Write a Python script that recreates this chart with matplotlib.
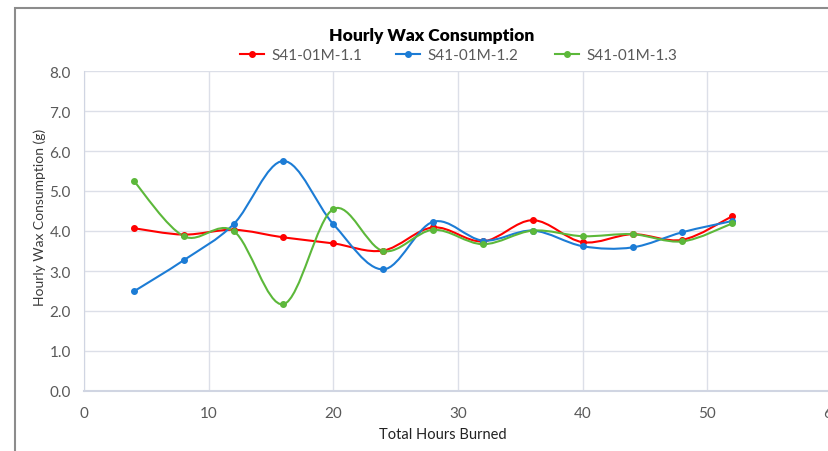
import matplotlib
matplotlib.use("Agg")
import matplotlib.pyplot as plt
from matplotlib.path import Path
from matplotlib.patches import PathPatch, Rectangle
from matplotlib.lines import Line2D
import numpy as np

hours = [4, 8, 12, 16, 20, 24, 28, 32, 36, 40, 44, 48, 52]
s11 = [4.07, 3.91, 4.03, 3.84, 3.69, 3.51, 4.09, 3.74, 4.27, 3.72, 3.92, 3.78, 4.37]
s12 = [2.49, 3.27, 4.17, 5.75, 4.17, 3.04, 4.23, 3.76, 4.01, 3.62, 3.59, 3.97, 4.25]
s13 = [5.25, 3.87, 4.00, 2.17, 4.55, 3.50, 4.03, 3.67, 4.01, 3.87, 3.92, 3.74, 4.19]
series_names = ["S41-01M-1.1", "S41-01M-1.2", "S41-01M-1.3"]
colors = ["#FF0000", "#1C7CD5", "#5CB83A"]
xticks = [0, 10, 20, 30, 40, 50, 60]
yticks = [0, 1, 2, 3, 4, 5, 6, 7, 8]

W, H = 829, 452
fig = plt.figure(figsize=(W / 100, H / 100), dpi=100)

fnt = ["Lato", "DejaVu Sans"]
tick_col = "#595959"

# outer frame
fig.patches.append(Rectangle((15 / W, -0.1), 1.2, 1.1 - 9 / H, transform=fig.transFigure,
                             fill=False, edgecolor="#8C8C8C", linewidth=1.5))

x0, x1 = 84, 832
y0, y1 = 392, 72
ax = fig.add_axes([x0 / W, (H - y0) / H, (x1 - x0) / W, (y0 - y1) / H])
ax.set_xlim(0, 60)
ax.set_ylim(0, 8)
ax.set_xticks(xticks)
ax.set_yticks(yticks)
ax.set_xticklabels([str(t) for t in xticks], fontfamily=fnt, fontsize=11, color=tick_col)
ax.set_yticklabels([f"{t:.1f}" for t in yticks], fontfamily=fnt, fontsize=11, color=tick_col)
ax.tick_params(length=0)
ax.tick_params(axis="x", pad=11)
ax.tick_params(axis="y", pad=9.5)
ax.grid(True, color="#DCDFE8", linewidth=1)
ax.set_axisbelow(True)
for s in ["top", "right"]:
    ax.spines[s].set_visible(False)
ax.spines["left"].set_color("#D0D5E2")
ax.spines["bottom"].set_color("#D0D5E2")
ax.spines["bottom"].set_linewidth(1.5)


def smooth_path(xs, ys):
    P = np.column_stack([xs, ys]).astype(float)
    n = len(P)
    verts = [P[0]]
    codes = [Path.MOVETO]
    for i in range(n - 1):
        pm = P[i - 1] if i > 0 else P[i]
        pp = P[i + 2] if i + 2 < n else P[i + 1]
        c1 = P[i] + (P[i + 1] - pm) / 6.0
        c2 = P[i + 1] - (pp - P[i]) / 6.0
        verts += [c1, c2, P[i + 1]]
        codes += [Path.CURVE4] * 3
    return Path(verts, codes)


for ys, c in zip([s11, s12, s13], colors):
    ax.add_patch(PathPatch(smooth_path(hours, ys), fill=False, edgecolor=c, linewidth=1.5, zorder=3))
    ax.plot(hours, ys, linestyle="none", marker="o", markersize=4, color=c, zorder=4)

leg_x = [240, 396, 555]
for name, c, lx in zip(series_names, colors, leg_x):
    h = Line2D([0], [0], color=c, linewidth=1.5, marker="o", markersize=4)
    leg = fig.legend([h], [name], loc="center left", bbox_to_anchor=(lx / W, 1 - 56 / H),
                     frameon=False, handlelength=1.6, handletextpad=0.45, borderpad=0,
                     borderaxespad=0, prop={"family": fnt, "size": 11})
    for t in leg.get_texts():
        t.set_color(tick_col)

fig.text(432 / W, 1 - 36 / H, "Hourly Wax Consumption", ha="center", va="center",
         fontfamily=fnt, fontweight="heavy", fontsize=12.5, color="#000000")
fig.text(443 / W, 1 - 435 / H, "Total Hours Burned", ha="center", va="center",
         fontfamily=fnt, fontsize=10.5, color="#222222")
fig.text(40 / W, 1 - 217 / H, "Hourly Wax Consumption (g)", ha="center", va="center",
         rotation=90, fontfamily=fnt, fontsize=10, color="#3A3A3A")

fig.savefig("out.png", dpi=100)
